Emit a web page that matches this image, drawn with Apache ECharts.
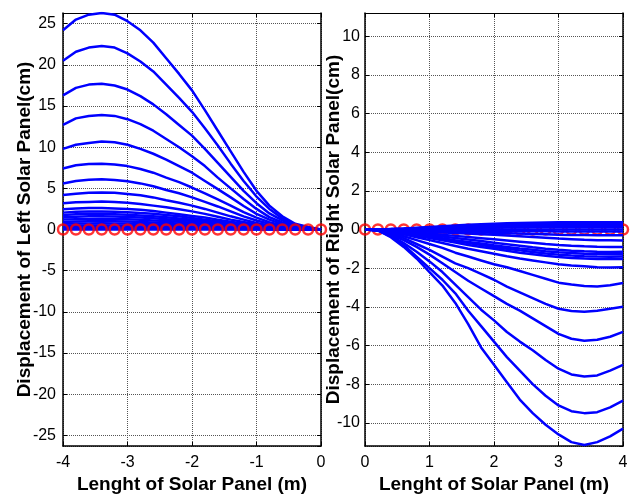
<!DOCTYPE html>
<html><head><meta charset="utf-8">
<script src="https://cdn.jsdelivr.net/npm/echarts@6/dist/echarts.min.js"></script>
<style>html,body{margin:0;padding:0;background:#fff}#c{width:633px;height:495px}</style>
</head><body><div id="c"></div>
<script>
// x positions (m)
const xLeft = [-4.0,-3.8,-3.6,-3.4,-3.2,-3.0,-2.8,-2.6,-2.4,-2.2,-2.0,-1.8,-1.6,-1.4,-1.2,-1.0,-0.8,-0.6,-0.4,-0.2,0.0];
const xRight = [0.0,0.2,0.4,0.6,0.8,1.0,1.2,1.4,1.6,1.8,2.0,2.2,2.4,2.6,2.8,3.0,3.2,3.4,3.6,3.8,4.0];

// Left panel displacement curves (cm)
const left01 = [24.2,25.5,26.1,26.3,26.1,25.3,24.2,22.7,20.8,18.9,16.9,14.5,12.0,9.5,7.0,4.7,2.9,1.6,0.7,0.3,0];
const left02 = [20.5,21.6,22.1,22.3,22.1,21.4,20.4,19.2,17.6,16.0,14.3,12.3,10.2,8.0,5.9,4.0,2.5,1.35,0.6,0.25,0];
const left03 = [16.3,17.2,17.6,17.7,17.5,17.0,16.2,15.2,14.0,12.7,11.4,9.8,8.1,6.4,4.7,3.2,1.95,1.1,0.5,0.2,0];
const left04 = [12.7,13.5,13.8,13.9,13.8,13.4,12.8,12.0,11.0,10.0,8.9,7.7,6.3,5.0,3.7,2.5,1.5,0.85,0.4,0.15,0];
const left05 = [9.8,10.3,10.5,10.7,10.6,10.3,9.8,9.2,8.5,7.7,6.9,5.9,4.9,3.9,2.85,1.9,1.2,0.65,0.3,0.12,0];
const left06 = [7.4,7.8,7.95,8.0,7.9,7.7,7.35,6.9,6.3,5.75,5.1,4.4,3.65,2.9,2.1,1.45,0.9,0.5,0.22,0.1,0];
const left07 = [5.6,5.9,6.05,6.1,6.0,5.85,5.6,5.25,4.8,4.4,3.9,3.35,2.8,2.2,1.6,1.1,0.7,0.38,0.17,0.07,0];
const left08 = [4.2,4.35,4.45,4.5,4.45,4.3,4.15,3.9,3.55,3.25,2.9,2.5,2.05,1.6,1.2,0.8,0.5,0.28,0.13,0.05,0];
const left09 = [3.2,3.3,3.35,3.4,3.35,3.25,3.1,2.9,2.7,2.45,2.2,1.9,1.55,1.2,0.9,0.6,0.38,0.21,0.1,0.04,0];
const left10 = [2.45,2.55,2.6,2.6,2.55,2.5,2.4,2.25,2.05,1.85,1.65,1.45,1.2,0.95,0.7,0.47,0.29,0.16,0.07,0.03,0];
const left11 = [2.05,2.15,2.2,2.2,2.15,2.1,2.0,1.9,1.75,1.6,1.4,1.2,1.0,0.8,0.58,0.4,0.24,0.13,0.06,0.02,0];
const left12 = [1.75,1.85,1.9,1.9,1.85,1.8,1.7,1.6,1.5,1.35,1.2,1.05,0.87,0.68,0.5,0.34,0.21,0.12,0.05,0.02,0];
const left13 = [1.5,1.55,1.6,1.6,1.58,1.52,1.45,1.36,1.25,1.14,1.02,0.88,0.73,0.57,0.42,0.28,0.18,0.1,0.04,0.02,0];
const left14 = [1.2,1.26,1.29,1.3,1.28,1.24,1.18,1.1,1.02,0.93,0.83,0.71,0.59,0.47,0.34,0.23,0.14,0.08,0.04,0.01,0];
const left15 = [0.92,0.97,0.99,1.0,0.99,0.96,0.91,0.85,0.79,0.72,0.64,0.55,0.46,0.36,0.27,0.18,0.11,0.06,0.03,0.01,0];
const left16 = [0.69,0.73,0.74,0.75,0.74,0.72,0.68,0.64,0.59,0.54,0.48,0.41,0.34,0.27,0.2,0.13,0.08,0.05,0.02,0.01,0];
const left17 = [0.46,0.48,0.5,0.5,0.49,0.48,0.46,0.43,0.39,0.36,0.32,0.27,0.23,0.18,0.13,0.09,0.05,0.03,0.01,0,0];
const left18 = [0.28,0.29,0.3,0.3,0.3,0.29,0.27,0.26,0.24,0.21,0.19,0.16,0.14,0.11,0.08,0.05,0.03,0.02,0.01,0,0];
const left19 = [0.14,0.15,0.15,0.15,0.15,0.14,0.14,0.13,0.12,0.11,0.1,0.08,0.07,0.05,0.04,0.03,0.02,0.01,0,0,0];
const left20 = [0,0,0,0,0,0,0,0,0,0,0,0,0,0,0,0,0,0,0,0,0];

// Right panel displacement curves (cm)
const right01 = [0,-0.05,-0.4,-0.9,-1.5,-2.2,-2.9,-3.8,-4.9,-6.1,-7.0,-7.9,-8.8,-9.5,-10.1,-10.6,-11.0,-11.15,-11.0,-10.7,-10.3];
const right02 = [0,-0.05,-0.35,-0.8,-1.4,-2.0,-2.6,-3.3,-4.2,-5.0,-5.8,-6.6,-7.3,-8.0,-8.6,-9.1,-9.4,-9.5,-9.45,-9.2,-8.85];
const right03 = [0,-0.05,-0.3,-0.7,-1.15,-1.65,-2.2,-2.85,-3.5,-4.15,-4.7,-5.3,-5.8,-6.25,-6.75,-7.2,-7.5,-7.6,-7.55,-7.3,-7.0];
const right04 = [0,-0.04,-0.25,-0.55,-0.9,-1.3,-1.75,-2.2,-2.65,-3.05,-3.45,-3.85,-4.2,-4.6,-5.0,-5.4,-5.65,-5.75,-5.7,-5.55,-5.3];
const right05 = [0,-0.03,-0.2,-0.45,-0.75,-1.05,-1.4,-1.75,-2.0,-2.3,-2.6,-2.95,-3.25,-3.55,-3.85,-4.1,-4.22,-4.25,-4.2,-4.1,-4.0];
const right06 = [0,-0.02,-0.15,-0.35,-0.55,-0.75,-0.95,-1.2,-1.4,-1.6,-1.8,-1.95,-2.15,-2.35,-2.55,-2.75,-2.85,-2.92,-2.95,-2.88,-2.77];
const right07 = [0,-0.02,-0.1,-0.25,-0.4,-0.55,-0.7,-0.85,-1.0,-1.12,-1.25,-1.38,-1.5,-1.6,-1.7,-1.8,-1.86,-1.9,-1.95,-1.96,-1.95];
const right08 = [0,-0.02,-0.08,-0.2,-0.32,-0.44,-0.56,-0.68,-0.8,-0.9,-1.0,-1.1,-1.2,-1.28,-1.36,-1.42,-1.47,-1.5,-1.52,-1.53,-1.52];
const right09 = [0,-0.02,-0.07,-0.17,-0.28,-0.39,-0.5,-0.6,-0.7,-0.8,-0.9,-0.99,-1.08,-1.16,-1.24,-1.3,-1.35,-1.38,-1.4,-1.41,-1.4];
const right10 = [0,-0.02,-0.06,-0.15,-0.25,-0.35,-0.45,-0.55,-0.64,-0.73,-0.82,-0.9,-0.98,-1.05,-1.12,-1.18,-1.22,-1.25,-1.27,-1.28,-1.28];
const right11 = [0,-0.01,-0.05,-0.12,-0.2,-0.28,-0.36,-0.44,-0.52,-0.6,-0.68,-0.76,-0.84,-0.92,-0.99,-1.05,-1.1,-1.13,-1.15,-1.16,-1.15];
const right12 = [0,-0.01,-0.04,-0.09,-0.15,-0.21,-0.27,-0.33,-0.39,-0.45,-0.51,-0.57,-0.63,-0.69,-0.75,-0.8,-0.84,-0.87,-0.89,-0.9,-0.9];
const right13 = [0,-0.01,-0.03,-0.06,-0.09,-0.12,-0.15,-0.18,-0.21,-0.24,-0.27,-0.31,-0.35,-0.39,-0.43,-0.47,-0.5,-0.53,-0.55,-0.56,-0.57];
const right14 = [0,0,-0.01,-0.03,-0.05,-0.07,-0.09,-0.11,-0.13,-0.15,-0.17,-0.19,-0.21,-0.23,-0.25,-0.27,-0.28,-0.29,-0.3,-0.3,-0.3];
const right15 = [0,0,0,-0.01,-0.02,-0.03,-0.04,-0.05,-0.06,-0.07,-0.07,-0.08,-0.08,-0.09,-0.09,-0.1,-0.1,-0.1,-0.1,-0.1,-0.1];
const right16 = [0,0,0,0,0,0,0,0,0,0,0,0,0,0,0,0,0,0,0,0,0];
const right17 = [0,0,0.01,0.02,0.03,0.04,0.05,0.06,0.07,0.08,0.09,0.1,0.1,0.11,0.11,0.12,0.12,0.12,0.12,0.12,0.12];
const right18 = [0,0,0.01,0.03,0.05,0.07,0.09,0.11,0.13,0.15,0.16,0.17,0.18,0.19,0.19,0.2,0.2,0.2,0.2,0.2,0.2];
const right19 = [0,0,0.02,0.04,0.07,0.1,0.13,0.16,0.19,0.21,0.23,0.25,0.26,0.27,0.28,0.29,0.29,0.3,0.3,0.29,0.29];
const right20 = [0,0,0.02,0.05,0.09,0.13,0.17,0.21,0.24,0.27,0.3,0.32,0.34,0.35,0.36,0.37,0.37,0.38,0.38,0.37,0.37];

// reference (undeformed) markers
const markLeft = [0,0,0,0,0,0,0,0,0,0,0,0,0,0,0,0,0,0,0,0,0];
const markRight = [0,0,0,0,0,0,0,0,0,0,0,0,0,0,0,0,0,0,0,0,0];

const leftCurves = [left01,left02,left03,left04,left05,left06,left07,left08,left09,left10,left11,left12,left13,left14,left15,left16,left17,left18,left19,left20];
const rightCurves = [right01,right02,right03,right04,right05,right06,right07,right08,right09,right10,right11,right12,right13,right14,right15,right16,right17,right18,right19,right20];

const FONT = 'Liberation Sans, Arial, sans-serif';
const zip = (xs, ys) => xs.map((x, i) => [x, ys[i]]);

function baseX(grid, min, max, name) {
  return {
    type: 'value', gridIndex: grid, min: min, max: max, interval: 1, position: 'bottom',
    axisLine: { show: true, onZero: false, lineStyle: { color: '#000', width: 1.5 } },
    axisTick: { show: true, inside: true, length: 4, lineStyle: { color: '#000' } },
    axisLabel: { color: '#000', fontSize: 16, fontFamily: FONT, margin: 9 },
    splitLine: { show: true, lineStyle: { color: '#555', type: 'dotted', width: 1 } },
    name: name, nameLocation: 'middle', nameGap: 29, nameMoveOverlap: false,
    nameTextStyle: { color: '#000', fontSize: 19, fontWeight: 'bold', fontFamily: FONT }
  };
}
function topX(grid, min, max) {
  return {
    type: 'value', gridIndex: grid, min: min, max: max, interval: 1, position: 'top',
    axisLine: { show: true, onZero: false, lineStyle: { color: '#000', width: 1 } },
    axisTick: { show: true, inside: true, length: 4, lineStyle: { color: '#000' } },
    axisLabel: { show: false }, splitLine: { show: false }
  };
}
function baseY(grid, lim, split, name, margin, gap) {
  return {
    type: 'value', gridIndex: grid, min: -lim, max: lim, splitNumber: split, position: 'left',
    axisLine: { show: true, onZero: false, lineStyle: { color: '#000', width: 1.5 } },
    axisTick: { show: true, inside: true, length: 4, lineStyle: { color: '#000' } },
    axisLabel: { color: '#000', fontSize: 16, fontFamily: FONT, margin: margin, showMinLabel: false, showMaxLabel: false },
    splitLine: { show: true, lineStyle: { color: '#555', type: 'dotted', width: 1 } },
    name: name, nameLocation: 'middle', nameGap: gap, nameMoveOverlap: false,
    nameTextStyle: { color: '#000', fontSize: 19, fontWeight: 'bold', fontFamily: FONT }
  };
}
function rightY(grid, lim, split) {
  return {
    type: 'value', gridIndex: grid, min: -lim, max: lim, splitNumber: split, position: 'right',
    axisLine: { show: true, onZero: false, lineStyle: { color: '#000', width: 1.5 } },
    axisTick: { show: true, inside: true, length: 4, lineStyle: { color: '#000' } },
    axisLabel: { show: false }, splitLine: { show: false }
  };
}

const series = [];
series.push({ type: 'scatter', xAxisIndex: 2, yAxisIndex: 2, data: zip(xRight, markRight), symbol: 'circle', symbolSize: 10,
  itemStyle: { color: 'rgba(0,0,0,0)', borderColor: '#ff0000', borderWidth: 2.5 }, z: 2, silent: true });
leftCurves.forEach(c => series.push({ type: 'line', xAxisIndex: 0, yAxisIndex: 0, data: zip(xLeft, c), showSymbol: false,
  lineStyle: { color: '#0000ff', width: 2.5 }, z: 3, silent: true, clip: true }));
rightCurves.forEach(c => series.push({ type: 'line', xAxisIndex: 2, yAxisIndex: 2, data: zip(xRight, c), showSymbol: false,
  lineStyle: { color: '#0000ff', width: 2.5 }, z: 3, silent: true, clip: true }));
series.push({ type: 'scatter', xAxisIndex: 0, yAxisIndex: 0, data: zip(xLeft, markLeft), symbol: 'circle', symbolSize: 10,
  itemStyle: { color: 'rgba(0,0,0,0)', borderColor: '#ff0000', borderWidth: 2.5 }, z: 4, silent: true });

const chart = echarts.init(document.getElementById('c'), null, { renderer: 'canvas' });
chart.setOption({
  animation: false,
  backgroundColor: '#fff',
  grid: [
    { left: 63, top: 13, width: 258, height: 433, outerBoundsMode: 'none', containLabel: false },
    { left: 365, top: 13, width: 258, height: 433, outerBoundsMode: 'none', containLabel: false }
  ],
  xAxis: [
    baseX(0, -4, 0, 'Lenght of Solar Panel (m)'),
    topX(0, -4, 0),
    baseX(1, 0, 4, 'Lenght of Solar Panel (m)'),
    topX(1, 0, 4)
  ],
  yAxis: [
    baseY(0, 26.3, 10, 'Displacement of Left Solar Panel(cm)', 7, 29),
    rightY(0, 26.3, 10),
    baseY(1, 11.2, 11, 'Displacement of Right Solar Panel(cm)', 5, 22),
    rightY(1, 11.2, 11)
  ],
  series: series
});
</script></body></html>
